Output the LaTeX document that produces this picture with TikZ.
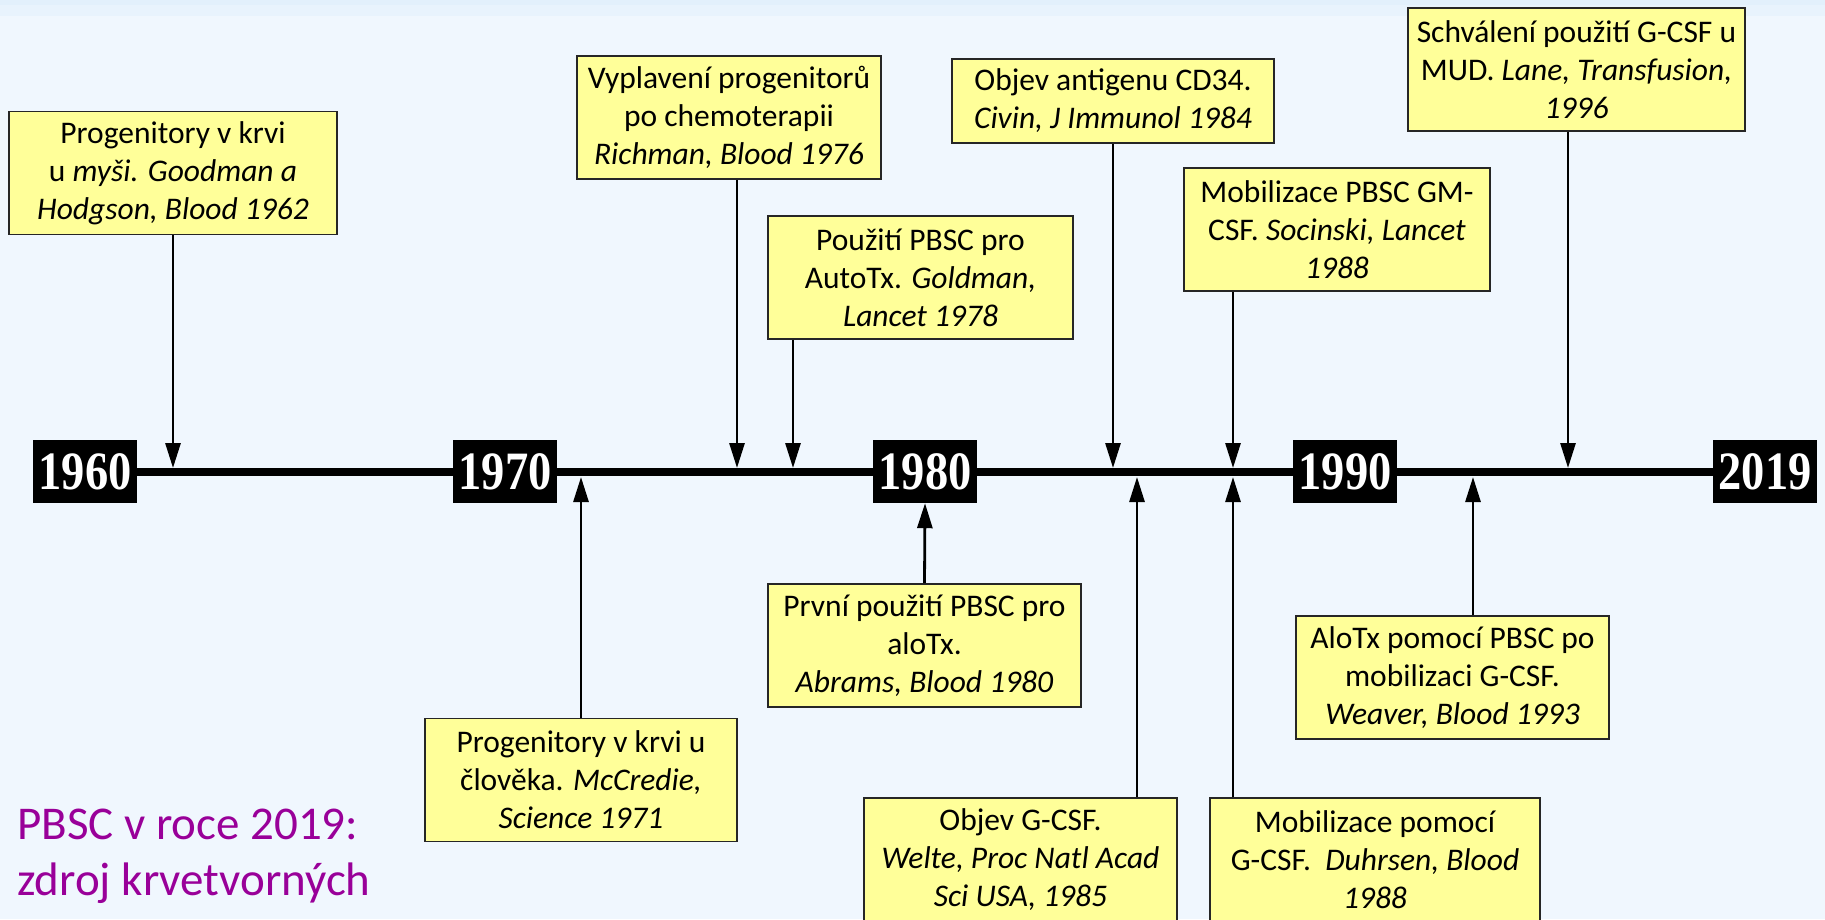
\documentclass[tikz,border=0pt]{standalone}
\usepackage{fontspec}
\setmainfont{Carlito}
\newfontfamily\yearfont{Liberation Serif}
\usetikzlibrary{arrows.meta}
\definecolor{bgblue}{RGB}{240,247,254}
\definecolor{bandblue}{RGB}{232,243,253}
\definecolor{banddark}{RGB}{226,240,252}
\definecolor{noteyellow}{RGB}{255,255,153}
\definecolor{notepurple}{RGB}{153,0,153}

\begin{document}
\begin{tikzpicture}[x=1pt,y=-1pt,
  yearbox/.style={fill=black,text=white,minimum width=104,minimum height=63,inner sep=0pt,
    font=\yearfont\bfseries\fontsize{54}{54}\selectfont},
  event/.style={draw=black!85,line width=1.8pt,fill=noteyellow,inner sep=0pt,align=center,
    minimum height=123,font=\fontsize{31.5}{38}\selectfont,
    execute at begin node={\rule{0pt}{27pt}}},
  arr/.style={-{Triangle[length=25pt,width=15pt]},line width=2.8pt}]
\path[use as bounding box,fill=bgblue] (0,0) rectangle (1825,919);
\fill[bandblue] (0,0) rectangle (1825,16);
\fill[banddark] (0,0) rectangle (1825,5);
\node[yearbox] (y1960) at (85,471.5) {\scalebox{.86}[1]{1960}};
\node[yearbox] (y1970) at (505,471.5) {\scalebox{.86}[1]{1970}};
\node[yearbox] (y1980) at (925,471.5) {\scalebox{.86}[1]{1980}};
\node[yearbox] (y1990) at (1345,471.5) {\scalebox{.86}[1]{1990}};
\node[yearbox] (y2019) at (1765,471.5) {\scalebox{.86}[1]{2019}};
\draw[line width=8pt] (y1960.east) -- (y1970.west) (y1970.east) -- (y1980.west)
  (y1980.east) -- (y1990.west) (y1990.east) -- (y2019.west);
\node[event,minimum width=328] (goodman) at (173,173) {Progenitory v krvi\\u \textit{myši. Goodman a}\\\textit{Hodgson, Blood 1962}};
\node[event,minimum width=304] (richman) at (729,117.5) {Vyplavení progenitorů\\po chemoterapii\\\textit{Richman, Blood 1976}};
\node[event,minimum width=305] (goldman) at (920.5,277.5) {Použití PBSC pro\\AutoTx. \textit{Goldman,}\\\textit{Lancet 1978}};
\node[event,minimum width=322,minimum height=84] (civin) at (1113,101) {Objev antigenu CD34.\\\textit{Civin, J Immunol 1984}};
\node[event,minimum width=306] (socinski) at (1337,229.5) {Mobilizace PBSC GM-\\CSF. \textit{Socinski, Lancet}\\\textit{1988}};
\node[event,minimum width=337] (lane) at (1576.5,69.5) {Schválení použití G-CSF u\\MUD. \textit{Lane, Transfusion,}\\\textit{1996}};
\node[event,minimum width=312] (mccredie) at (581,780) {Progenitory v krvi u\\člověka. \textit{McCredie,}\\\textit{Science 1971}};
\node[event,minimum width=313] (abrams) at (924.5,645.5) {První použití PBSC pro\\aloTx.\\\textit{Abrams, Blood 1980}};
\node[event,minimum width=313] (welte) at (1020.5,859.5) {Objev G-CSF.\\\textit{Welte, Proc Natl Acad}\\\textit{Sci USA, 1985}};
\node[event,minimum width=330] (duhrsen) at (1375,859.5) {Mobilizace pomocí\\G-CSF.\ \ \textit{Duhrsen, Blood}\\\textit{1988}};
\node[event,minimum width=313] (weaver) at (1452.5,677.5) {AloTx pomocí PBSC po\\mobilizaci G-CSF.\\\textit{Weaver, Blood 1993}};
\coordinate (t-goodman) at (173,468);
\coordinate (t-richman) at (737,468);
\coordinate (t-goldman) at (793,468);
\coordinate (t-civin) at (1113,468);
\coordinate (t-socinski) at (1233,468);
\coordinate (t-lane) at (1568,468);
\coordinate (t-mccredie) at (581,477);
\coordinate (t-welte) at (1137,477);
\coordinate (t-duhrsen) at (1233,477);
\coordinate (t-weaver) at (1473,477);
\draw[arr] (goodman.south) -- (t-goodman);
\draw[arr] (richman.south -| t-richman) -- (t-richman);
\draw[arr] (goldman.south -| t-goldman) -- (t-goldman);
\draw[arr] (civin.south) -- (t-civin);
\draw[arr] (socinski.south -| t-socinski) -- (t-socinski);
\draw[arr] (lane.south -| t-lane) -- (t-lane);
\draw[arr] (mccredie.north) -- (t-mccredie);
\draw[arr] (abrams.north) -- (y1980.south);
\draw[arr] (welte.north -| t-welte) -- (t-welte);
\draw[arr] (duhrsen.north -| t-duhrsen) -- (t-duhrsen);
\draw[arr] (weaver.north -| t-weaver) -- (t-weaver);
\node[anchor=north west,inner sep=0pt,align=left,text=notepurple,font=\fontsize{47}{56}\selectfont] (pbsc) at (17,809) {PBSC v roce 2019:\\zdroj krvetvorných};
\end{tikzpicture}
\end{document}
